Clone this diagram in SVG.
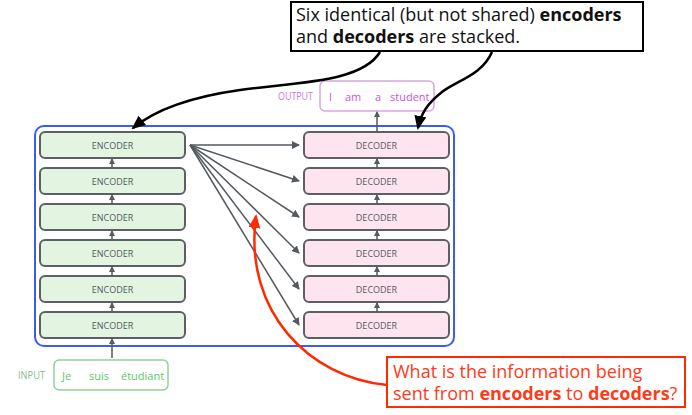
<svg xmlns="http://www.w3.org/2000/svg" width="692" height="415" viewBox="0 0 692 415">
<style>
.enc rect{fill:#e3f4e1;stroke:#5b6066;stroke-width:2}
.dec rect{fill:#fde4ef;stroke:#5b6066;stroke-width:2}
.lbl{font-family:"Open Sans","Noto Sans",sans-serif;font-size:9px;fill:#555a60;text-anchor:middle}
.conn{stroke:#555a60;stroke-width:1.5;fill:none}
.small{stroke:#555a60;stroke-width:1.5;fill:none}
.big{font-family:"Open Sans","Noto Sans",sans-serif;font-size:18px}
.io{font-family:"Open Sans","Noto Sans",sans-serif;font-size:11px}
</style>
<defs>
<marker id="ah" markerWidth="8" markerHeight="8" refX="7" refY="4" orient="auto" markerUnits="userSpaceOnUse"><path d="M0,0 L8,4 L0,8 Z" fill="#555a60"/></marker>
<marker id="ahs" markerWidth="6" markerHeight="6" refX="5" refY="3" orient="auto" markerUnits="userSpaceOnUse"><path d="M0,0 L6,3 L0,6 Z" fill="#555a60"/></marker>
<marker id="ahb" markerWidth="14" markerHeight="12" refX="12" refY="6" orient="auto" markerUnits="userSpaceOnUse"><path d="M0,0 L14,6 L0,12 Z" fill="#000"/></marker>
<marker id="ahr" markerWidth="14" markerHeight="12" refX="12" refY="6" orient="auto" markerUnits="userSpaceOnUse"><path d="M0,0 L14,6 L0,12 Z" fill="#ff2a00"/></marker>
</defs>
<rect width="692" height="415" fill="#fff"/>
<rect id="container" x="35" y="126" width="419" height="220" rx="9" fill="none" stroke="#3a5cf0" stroke-width="2"/>

<g id="encoders">
<g id="enc1" class="enc"><rect x="40" y="132" width="145" height="26" rx="5"/><text class="lbl" x="112.5" y="148.5">ENCODER</text></g>
<g id="enc2" class="enc"><rect x="40" y="168" width="145" height="26" rx="5"/><text class="lbl" x="112.5" y="184.5">ENCODER</text></g>
<g id="enc3" class="enc"><rect x="40" y="204" width="145" height="26" rx="5"/><text class="lbl" x="112.5" y="220.5">ENCODER</text></g>
<g id="enc4" class="enc"><rect x="40" y="240" width="145" height="26" rx="5"/><text class="lbl" x="112.5" y="256.5">ENCODER</text></g>
<g id="enc5" class="enc"><rect x="40" y="276" width="145" height="26" rx="5"/><text class="lbl" x="112.5" y="292.5">ENCODER</text></g>
<g id="enc6" class="enc"><rect x="40" y="312" width="145" height="26" rx="5"/><text class="lbl" x="112.5" y="328.5">ENCODER</text></g>
</g>
<g id="decoders">
<g id="dec1" class="dec"><rect x="304" y="132" width="145" height="26" rx="5"/><text class="lbl" x="376.5" y="148.5">DECODER</text></g>
<g id="dec2" class="dec"><rect x="304" y="168" width="145" height="26" rx="5"/><text class="lbl" x="376.5" y="184.5">DECODER</text></g>
<g id="dec3" class="dec"><rect x="304" y="204" width="145" height="26" rx="5"/><text class="lbl" x="376.5" y="220.5">DECODER</text></g>
<g id="dec4" class="dec"><rect x="304" y="240" width="145" height="26" rx="5"/><text class="lbl" x="376.5" y="256.5">DECODER</text></g>
<g id="dec5" class="dec"><rect x="304" y="276" width="145" height="26" rx="5"/><text class="lbl" x="376.5" y="292.5">DECODER</text></g>
<g id="dec6" class="dec"><rect x="304" y="312" width="145" height="26" rx="5"/><text class="lbl" x="376.5" y="328.5">DECODER</text></g>
</g>

<g id="input">
<text class="io" x="18" y="379" fill="#7fbf8a" font-size="8.5" textLength="27" lengthAdjust="spacingAndGlyphs">INPUT</text>
<rect x="54" y="360" width="114" height="30" rx="5" fill="#fff" stroke="#8fd19e" stroke-width="1.5"/>
<text class="io" y="380" fill="#5cc96a"><tspan x="62">Je</tspan><tspan x="89">suis</tspan><tspan x="121">étudiant</tspan></text>
</g>
<g id="output">
<text class="io" x="278" y="100" fill="#cc77dd" font-size="8.5" textLength="35" lengthAdjust="spacingAndGlyphs">OUTPUT</text>
<rect x="320" y="81" width="114" height="30" rx="5" fill="#fff" stroke="#d9a6e2" stroke-width="1.5"/>
<text class="io" y="101" fill="#cc55dd"><tspan x="329">I</tspan><tspan x="345">am</tspan><tspan x="375">a</tspan><tspan x="390">student</tspan></text>
</g>

<g id="connectors">
<path class="small" d="M112,168 V159" marker-end="url(#ahs)"/>
<path class="small" d="M112,204 V195" marker-end="url(#ahs)"/>
<path class="small" d="M112,240 V231" marker-end="url(#ahs)"/>
<path class="small" d="M112,276 V267" marker-end="url(#ahs)"/>
<path class="small" d="M112,312 V303" marker-end="url(#ahs)"/>
<path class="small" d="M112,358 V339" marker-end="url(#ahs)"/>
<path class="small" d="M377,168 V159" marker-end="url(#ahs)"/>
<path class="small" d="M377,204 V195" marker-end="url(#ahs)"/>
<path class="small" d="M377,240 V231" marker-end="url(#ahs)"/>
<path class="small" d="M377,276 V267" marker-end="url(#ahs)"/>
<path class="small" d="M377,312 V303" marker-end="url(#ahs)"/>
<path class="small" d="M377,132 V112" marker-end="url(#ahs)"/>
<path class="conn" d="M190,145 L299,145" marker-end="url(#ah)"/>
<path class="conn" d="M190,145 L299,181" marker-end="url(#ah)"/>
<path class="conn" d="M190,145 L299,217" marker-end="url(#ah)"/>
<path class="conn" d="M190,145 L299,253" marker-end="url(#ah)"/>
<path class="conn" d="M190,145 L299,289" marker-end="url(#ah)"/>
<path class="conn" d="M190,145 L299,325" marker-end="url(#ah)"/>
<path d="M380,52 C362,82 300,82 240,90 C190,97 155,110 133,128" fill="none" stroke="#000" stroke-width="2.5" marker-end="url(#ahb)"/>
<path d="M492,52 C482,75 458,80 442,92 C428,103 421,113 418,128" fill="none" stroke="#000" stroke-width="2.5" marker-end="url(#ahb)"/>
<path d="M387,385 C310,378 243,312 256,216" fill="none" stroke="#ff2a00" stroke-width="2.5" marker-end="url(#ahr)"/>
</g>

<g id="callout-top">
<rect x="291" y="2" width="352" height="49" fill="#fff" stroke="#000" stroke-width="2"/>
<text class="big" x="296" y="21" font-size="17.5" fill="#111">Six identical (but not shared) <tspan font-weight="bold">encoders</tspan></text>
<text class="big" x="296" y="43" font-size="17.5" fill="#111">and <tspan font-weight="bold">decoders</tspan> are stacked.</text>
</g>
<g id="callout-red">
<rect x="387" y="357" width="298" height="50" fill="#fff" stroke="#ff2a00" stroke-width="2"/>
<text class="big" x="393" y="378" fill="#ff3b1a">What is the information being</text>
<text class="big" x="393" y="400" fill="#ff3b1a">sent from <tspan font-weight="bold">encoders</tspan> to <tspan font-weight="bold">decoders</tspan>?</text>
</g>
</svg>
